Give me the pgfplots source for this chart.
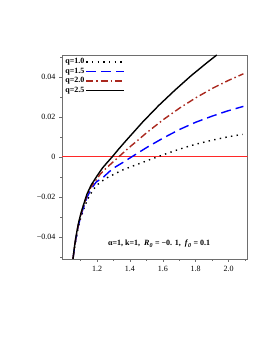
\documentclass[border=0pt]{standalone}
\usepackage{fontspec}
\setmainfont{Liberation Serif}
\usepackage{pgfplots}
\pgfplotsset{compat=1.18}
\definecolor{zerored}{RGB}{255,40,40}
\definecolor{qtwored}{RGB}{170,40,30}
\definecolor{boxgray}{RGB}{110,110,110}
\begin{document}
\begin{tikzpicture}[x=1pt,y=1pt]
\path[use as bounding box] (0,0) rectangle (266,344);
\begin{axis}[at={(62pt,85pt)}, anchor=south west, scale only axis,
  width=185.5pt, height=204pt,
  xmin=0.987, xmax=2.115, ymin=-0.051, ymax=0.051,
  scaled y ticks=false, scaled x ticks=false,
  xtick={1.2,1.4,1.6,1.8,2.0}, xticklabels={1.2,1.4,1.6,1.8,2.0},
  minor xtick={1.1,1.3,1.5,1.7,1.9,2.1},
  ytick={-0.04,-0.02,0,0.02,0.04}, yticklabels={−0.04,−0.02,0,0.02,0.04},
  minor ytick={-0.05,-0.03,-0.01,0.01,0.03,0.05},
  tick pos=left, tick align=outside,
  major tick length=3pt, minor tick length=2pt,
  axis line style={boxgray, line width=0.6pt},
  tick style={boxgray, line width=0.5pt},
  ticklabel style={font=\fontsize{8}{9}\selectfont},
  xticklabel style={yshift=-1pt},
  legend cell align=left, legend plot pos=right,
  legend image code/.code={\draw[#1] (0pt,0pt) -- (38pt,0pt);},
  legend style={at={(axis description cs:0.005,0.995)}, anchor=north west,
    draw=none, fill=none, font=\bfseries\fontsize{8}{9}\selectfont,
    row sep=0.3pt, inner sep=1pt, nodes={inner sep=1.2pt}},
]
\addplot[color=zerored, line width=1pt, forget plot] coordinates {(0.987,0) (2.115,0)};
% q = 1.0
\addplot[black, line width=1.4pt, dash pattern=on 1.4pt off 4.3pt] coordinates {
(1.0538,-0.051) (1.0617,-0.0462) (1.0714,-0.0415) (1.0861,-0.0352) (1.1008,-0.0305)
(1.1155,-0.0268) (1.1390,-0.0218) (1.1693,-0.0172) (1.1997,-0.0140) (1.2506,-0.0108)
(1.3015,-0.0087) (1.3524,-0.0066) (1.4023,-0.0050) (1.4738,-0.0028) (1.5345,-0.0009)
(1.5658,0) (1.6050,0.0012) (1.6863,0.0035) (1.7518,0.0052) (1.8008,0.0064)
(1.8889,0.0082) (1.9966,0.0101) (2.0847,0.0113)};
\addlegendentry{q=1.0}
% q = 1.5
\addplot[blue, line width=1.4pt, dash pattern=on 10pt off 5pt] coordinates {
(1.0538,-0.051) (1.0617,-0.0460) (1.0714,-0.0410) (1.0861,-0.0345) (1.1008,-0.0297)
(1.1155,-0.0258) (1.1390,-0.0202) (1.1645,-0.0160) (1.1938,-0.0126) (1.2398,-0.0100)
(1.2721,-0.0075) (1.3113,-0.0050) (1.3622,-0.0025) (1.4092,0) (1.4582,0.0025)
(1.5071,0.0050) (1.6050,0.0096) (1.7029,0.0138) (1.8008,0.0174) (1.8987,0.0204)
(1.9966,0.0231) (2.0900,0.0253)};
\addlegendentry{q=1.5}
% q = 2.0
\addplot[qtwored, line width=1.4pt, dash pattern=on 7pt off 3pt on 1.5pt off 3pt] coordinates {
(1.0538,-0.051) (1.0617,-0.0458) (1.0714,-0.0405) (1.0861,-0.0340) (1.1008,-0.0290)
(1.1155,-0.0250) (1.1390,-0.0192) (1.1645,-0.0148) (1.1938,-0.0116) (1.2203,-0.0085)
(1.2526,-0.0058) (1.2810,-0.0037) (1.3309,0) (1.3700,0.0029) (1.4092,0.0057)
(1.5071,0.0125) (1.6050,0.0188) (1.7029,0.0245) (1.8008,0.0296) (1.8987,0.0342)
(1.9966,0.0382) (2.0900,0.0416)};
\addlegendentry{q=2.0}
% q = 2.5
\addplot[black, line width=1.4pt] coordinates {
(1.0538,-0.051) (1.0617,-0.0455) (1.0714,-0.0400) (1.0861,-0.0335) (1.1008,-0.0285)
(1.1155,-0.0245) (1.1390,-0.0185) (1.1645,-0.0140) (1.1997,-0.0095) (1.2330,-0.0055)
(1.2624,-0.0027) (1.2917,0) (1.3309,0.0039) (1.3798,0.0085) (1.4288,0.0130)
(1.4777,0.0175) (1.5756,0.0258) (1.6735,0.0334) (1.7714,0.0406) (1.8693,0.0472)
(1.9281,0.0510)};
\addlegendentry{q=2.5}
\node[font=\bfseries\fontsize{8}{9}\selectfont] at (axis cs:1.578,-0.0435)
  {α=1, k=1,\ \ \textit{R}\textsubscript{\textit{0}} = −0. 1,\ \ \textit{f}\textsubscript{\textit{0}} = 0.1};
\node[font=\fontsize{11}{12}\selectfont] at (axis description cs:-0.208,0.5)
  {\textit{T}\textsubscript{\textit{H}}};
\node[font=\fontsize{11}{12}\selectfont] at (axis description cs:0.495,-0.105)
  {\textit{r}\textsubscript{+}};
\end{axis}
\end{tikzpicture}
\end{document}
